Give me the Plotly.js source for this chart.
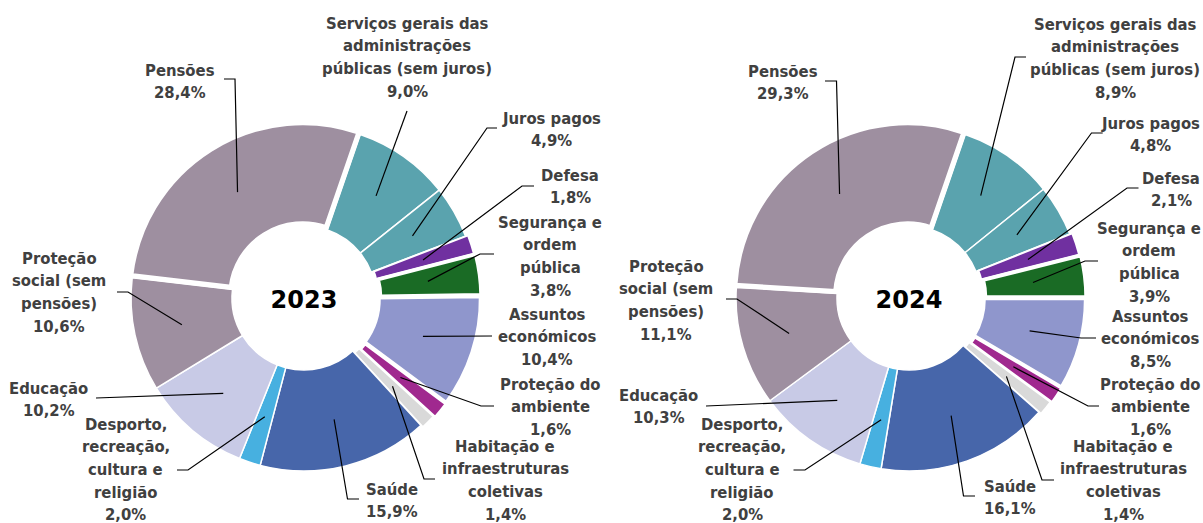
<!DOCTYPE html>
<html><head><meta charset="utf-8">
<script src="https://cdn.plot.ly/plotly-3.0.1.min.js"></script>
<style>html,body{margin:0;padding:0;background:#fff}#chart{width:1203px;height:523px}</style>
</head><body><div id="chart"></div>
<script>
// ---------- DATA ----------
const categories = [
  "Serviços gerais das administrações públicas (sem juros)",
  "Juros pagos",
  "Defesa",
  "Segurança e ordem pública",
  "Assuntos económicos",
  "Proteção do ambiente",
  "Habitação e infraestruturas coletivas",
  "Saúde",
  "Desporto, recreação, cultura e religião",
  "Educação",
  "Proteção social (sem pensões)",
  "Pensões"
];
const labelLines = [
  ["Serviços gerais das", "administrações", "públicas (sem juros)"],
  ["Juros pagos"],
  ["Defesa"],
  ["Segurança e", "ordem", "pública"],
  ["Assuntos", "económicos"],
  ["Proteção do", "ambiente"],
  ["Habitação e", "infraestruturas", "coletivas"],
  ["Saúde"],
  ["Desporto,", "recreação,", "cultura e", "religião"],
  ["Educação"],
  ["Proteção", "social (sem", "pensões)"],
  ["Pensões"]
];
const years = ["2023", "2024"];
const values2023 = [9.0, 4.9, 1.8, 3.8, 10.4, 1.6, 1.4, 15.9, 2.0, 10.2, 10.6, 28.4];
const values2024 = [8.9, 4.8, 2.1, 3.9, 8.5, 1.6, 1.4, 16.1, 2.0, 10.3, 11.1, 29.3];
const colors = ["#5AA3AE", "#5AA3AE", "#7030A0", "#1A6B25", "#8F96CC", "#A0298F",
                "#D9D9D9", "#4766AA", "#47B0E0", "#C8CAE6", "#9E8FA0", "#9E8FA0"];

// ---------- LAYOUT (pixels) ----------
const W = 1203, H = 523;
const centers = [[304, 298], [909, 298]];
const R = 173, holeR = 72, rotation = 19, anchorR = 125;
const pulls   = [0, 0, 0.015, 0.025, 0.02, 0.025, 0.015, 0, 0, 0, 0, 0.015];
const borders = [1.5, 1.5, 2, 4, 3, 3, 2, 1.5, 1.5, 1.5, 1.5, 5];
// [labelCenterX, firstLineY, elbowX, elbowY, endX, endY]
const labelPos2023 = [
  [407, 23, 407, 111, 407, 111],
  [551, 118, 487, 128, 497, 128],
  [570, 175, 522, 186, 534, 186],
  [550, 222, 480, 254, 494, 254],
  [547, 314, 492, 336, 492, 336],
  [550, 384, 481, 406, 494, 406],
  [505, 446, 424, 479, 435, 479],
  [392, 489, 347.5, 499, 359, 499],
  [125.5, 424, 188, 470, 177, 470],
  [48.6, 388, 96, 398, 96, 398],
  [59, 258, 128, 292, 117, 292],
  [180, 70, 235, 79, 224, 79]
];
const labelPos2024 = [
  [1115, 24, 1015, 57, 1026, 57],
  [1150, 123, 1091.5, 133, 1102.7, 133],
  [1171, 178, 1127, 188, 1138.5, 188],
  [1149, 228, 1085, 261, 1098, 261],
  [1150, 316, 1081, 338, 1096, 338],
  [1150, 384, 1088, 406, 1099, 406],
  [1123, 446, 1042, 480, 1054, 480],
  [1009.6, 486, 963.5, 496, 975, 496],
  [742, 424, 805, 470, 793.5, 470],
  [658.5, 395, 706, 406, 706, 406],
  [666, 266, 737, 299, 726, 299],
  [782.7, 71, 836.5, 81, 825, 81]
];
const lineGap = 22.7;
const labelFont = {family: "DejaVu Sans Condensed, Roboto, sans-serif", size: 16.5, color: "#404040"};

const px = x => x / W, py = y => 1 - y / H;
const seriesList = [values2023, values2024];
const posList = [labelPos2023, labelPos2024];

const traces = [], annotations = [], shapes = [];
const maxPull = Math.max(...pulls);
seriesList.forEach((vals, k) => {
  const [cx, cy] = centers[k];
  const half = R * (1 + maxPull);
  traces.push({
    type: "pie",
    labels: categories,
    values: vals,
    sort: false,
    direction: "clockwise",
    rotation: rotation,
    hole: holeR / R,
    pull: pulls,
    textinfo: "none",
    hoverinfo: "label+percent",
    marker: {colors: colors, line: {color: "#ffffff", width: borders}},
    domain: {x: [px(cx - half), px(cx + half)], y: [1 - (cy + half) / H, 1 - (cy - half) / H]},
    title: {text: "<b>" + years[k] + "</b>", position: "middle center",
            font: {family: "DejaVu Sans, sans-serif", size: 24, color: "#000000"}},
    showlegend: false
  });
  const total = vals.reduce((a, b) => a + b, 0);
  let cum = 0;
  vals.forEach((v, i) => {
    const ang = (rotation + (cum + v / 2) / total * 360) * Math.PI / 180;
    cum += v;
    const ax = cx + anchorR * Math.sin(ang), ay = cy - anchorR * Math.cos(ang);
    const p = posList[k][i];
    shapes.push({type: "path", xref: "paper", yref: "paper",
      path: `M ${px(ax)},${py(ay)} L ${px(p[2])},${py(p[3])} L ${px(p[4])},${py(p[5])}`,
      line: {color: "#000000", width: 1.2}});
    const pct = v.toFixed(1).replace(".", ",") + "%";
    labelLines[i].concat([pct]).forEach((t, j) => {
      annotations.push({xref: "paper", yref: "paper", x: px(p[0]), y: py(p[1] + j * lineGap),
        text: "<b>" + t + "</b>", showarrow: false, xanchor: "center", yanchor: "middle",
        font: labelFont});
    });
  });
});

Plotly.newPlot("chart", traces, {
  width: W, height: H,
  margin: {l: 0, r: 0, t: 0, b: 0},
  paper_bgcolor: "#ffffff",
  showlegend: false,
  annotations: annotations,
  shapes: shapes
}, {displayModeBar: false, staticPlot: true});
</script></body></html>
